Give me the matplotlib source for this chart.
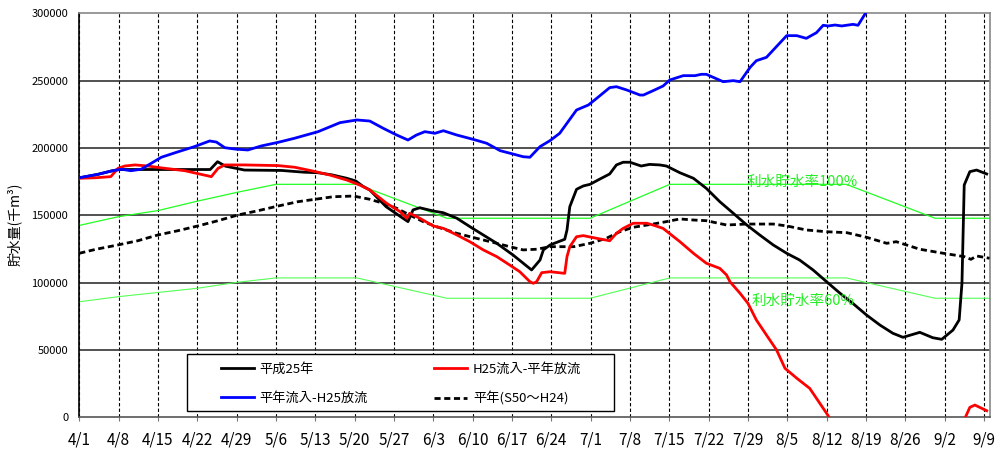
import matplotlib
matplotlib.use("Agg")
import matplotlib.pyplot as plt
from matplotlib.patches import Rectangle

plt.rcParams['font.family'] = ['Noto Sans CJK JP', 'DejaVu Sans']

# ---------------- data (day index from 4/1) ----------------
tick_days = list(range(0, 162, 7))
tick_labels = ['4/1', '4/8', '4/15', '4/22', '4/29', '5/6', '5/13', '5/20', '5/27',
               '6/3', '6/10', '6/17', '6/24', '7/1', '7/8', '7/15', '7/22', '7/29',
               '8/5', '8/12', '8/19', '8/26', '9/2', '9/9']
y_ticks = [0, 50000, 100000, 150000, 200000, 250000, 300000]

h25_days = [0, 3.3, 5.7, 7, 23.3, 24.6, 26, 29.4, 36, 40, 42.5, 45, 47.6, 49.2, 50.5, 51.7, 54.6,
            57.6, 58.5, 59.4, 60.6, 63, 64.8, 67.2, 70, 74.3, 77.2, 80.5, 82, 82.6, 83.8,
            86.4, 86.8, 87.3, 88.5, 89.7, 90.9, 92.6, 94.4, 95.6, 96.8, 98, 100, 101.5,
            103.3, 104.5, 106.9, 109.3, 111.6, 114, 116.4, 118.8, 121.1, 123.5, 125.9,
            128.2, 130.6, 133, 135.4, 137.7, 140.1, 142.5, 144.8, 146.6, 149.6, 151.9,
            153.5, 155.5, 156.6, 157.1, 157.5, 158.5, 159.7, 161.5]
h25_vals = [177800, 180400, 182900, 184000, 184000, 189800, 186500, 183600, 183300, 182000, 181600,
            180000, 177500, 175500, 171500, 168800, 156400, 147800, 145300, 154000, 155600,
            153200, 151900, 147800, 140300, 129200, 120500, 109400, 116800, 124300, 128000,
            132200, 139100, 156400, 169300, 171800, 173000, 176800, 180700, 187400, 189400,
            189400, 186600, 187800, 187400, 186600, 181600, 177500, 170000, 160100, 151500,
            142800, 135400, 128000, 121800, 116800, 109400, 100700, 92100, 84500, 76000,
            68500, 62400, 59400, 63100, 59100, 57900, 64800, 72300, 99700, 172500, 182400,
            183600, 180700]

red_days = [0, 3, 5.6, 6.9, 8.1, 9.9, 12.2, 15.2, 18.8, 23.5, 24.7, 25.9, 29.4, 35.4, 38.3,
            41.3, 44.6, 47.6, 49.9, 51.7, 54.7, 57.1, 58.3, 58.8, 60.6, 63, 64.8, 67.2, 69.5,
            71.9, 74.3, 76.6, 78.4, 80.2, 80.8, 81.4, 82.3, 83.8, 86.4, 86.8, 87.3, 88.5,
            89.7, 92.1, 94.4, 95.6, 96.8, 98.6, 101, 102.1, 103.9, 106.9, 109.3, 111.6, 114,
            115.2, 115.8, 117.6, 119, 120.5, 122.3, 124.1, 125.6, 127.7, 130, 131.8, 133,
            135, 145, 155, 157.6, 158.5, 159.4, 161.5]
red_vals = [177500, 177900, 178700, 184900, 186600, 187400, 186600, 184900, 183100, 178700,
            184900, 187400, 187400, 186900, 185700, 183100, 179900, 176200, 172500, 168800,
            158900, 152700, 147800, 151500, 147800, 142100, 140300, 135400, 130400, 124300,
            119300, 113100, 108100, 100700, 99500, 100700, 107400, 108100, 106900, 119300,
            126700, 134100, 134900, 132900, 131100, 136600, 140300, 144100, 144100, 142800,
            140300, 130400, 121800, 114400, 110600, 105700, 100700, 92100, 84700, 72300,
            61100, 50000, 36400, 29000, 21500, 10400, 3000, -10000, -30000, -20000, -1000,
            7400, 9100, 4900]

blue_days = [0, 3.3, 5.7, 7.5, 9.2, 11, 12.8, 14.6, 17.6, 20.5, 23.2, 24.4, 25.9, 27.7, 30,
             32.4, 35.4, 38.3, 42.5, 46.4, 49.4, 51.7, 54.1, 56.5, 58.5, 60, 61.5, 63.3, 64.8,
             67.2, 70.1, 72.5, 74.9, 77.2, 79, 80.2, 82, 83.8, 85.5, 88.5, 90.6, 92.1, 94.4,
             95.6, 97.4, 99.8, 100.4, 102.1, 103.9, 105.1, 107.5, 109.6, 110.7, 111.6, 114.6,
             116.4, 117.6, 119.4, 120.5, 122.3, 125.9, 127.7, 129.4, 131.2, 132.4, 133.3,
             134.5, 135.7, 137.7, 138.6, 140, 141]
blue_vals = [177900, 180400, 182900, 184200, 183100, 184200, 188600, 193100, 197200, 201000,
             205200, 204400, 200200, 199200, 198500, 201500, 204200, 207200, 212100, 218800,
             220800, 220000, 214600, 209600, 205900, 209600, 212100, 210900, 212800, 209600,
             206400, 203500, 198000, 195500, 193500, 193100, 201000, 205500, 210900, 228200,
             231900, 236900, 244800, 245500, 243100, 239300, 239300, 242500, 246000, 250500,
             253700, 253700, 254700, 254700, 249200, 250000, 249200, 259900, 264800, 267300,
             283400, 283400, 281400, 285600, 291100, 290600, 291300, 290600, 291800, 291100,
             300500, 306000]

avg_days = [0, 3, 6.9, 10.4, 14, 17.6, 21.1, 24.7, 28.2, 31.8, 35.4, 38.9, 42.5, 45.2, 48.8,
            51.7, 54.1, 56.5, 58.8, 61.2, 63.6, 67.2, 70.7, 74.3, 76.6, 79, 81.4, 83.8, 86.1,
            88, 90.9, 93.8, 96.2, 98.6, 102.1, 104.5, 106.9, 109.3, 111.6, 115.2, 118.8,
            123.5, 125.9, 129.4, 133, 136.6, 140.1, 143.7, 145.4, 147.2, 149.6, 153.2, 157.5,
            158.7, 159.7, 162]
avg_vals = [121800, 124800, 128000, 131100, 135400, 138600, 142100, 146000, 150200, 153400,
            156900, 160100, 162200, 163800, 164300, 161900, 158900, 155200, 150200, 145300,
            141500, 136600, 132900, 129200, 126700, 124300, 124800, 126700, 126700, 126700,
            129200, 132900, 137800, 141100, 143500, 145300, 147300, 146500, 146000, 142800,
            143500, 143500, 142100, 139100, 137800, 137100, 133700, 129200, 130400, 128000,
            124800, 122200, 119300, 117300, 119800, 118100]

full_days = [0, 7, 14, 21, 28, 35, 49.4, 65.4, 90.9, 105.1, 136.5, 152.3, 162]
full_vals = [142500, 149000, 153500, 160500, 167000, 173000, 173000, 147800, 147800,
             173000, 173000, 147800, 147800]
low_days = [0, 7, 21, 28, 35, 49.4, 65.4, 90.9, 105.1, 136.5, 152.3, 162]
low_vals = [85800, 89600, 95800, 100200, 103500, 103500, 88400, 88400, 103500, 103500,
            88400, 88400]

series_labels = ['平成25年', 'H25流入-平年放流', '平年流入-H25放流', '平年(S50～H24)']
label_full = '利水貯水率100%'
label_low = '利水貯水率60%'
ylabel = '貯水量(千m³)'

# ---------------- figure ----------------
fig = plt.figure(figsize=(10.01, 4.53), dpi=100)
AX_L, AX_R, AX_T, AX_B = 79.3, 989.5, 13.3, 417.3
AW, AH = AX_R - AX_L, AX_B - AX_T
ax = fig.add_axes([AX_L / 1001, 1 - AX_B / 453, AW / 1001, AH / 453])

ax.set_xlim(0, 162)
ax.set_ylim(0, 300000)

for d in tick_days:
    ax.axvline(d, color='black', lw=0.8, ls=(0, (3, 2)), zorder=1)
for v in y_ticks[1:-1]:
    ax.axhline(v, color='#333333', lw=1.2, zorder=1)

green = '#22ee22'
ax.plot(full_days, full_vals, color='#22ff22', lw=0.9, zorder=2)
ax.plot(low_days, low_vals, color='#55ff55', lw=0.8, zorder=2)

l_avg, = ax.plot(avg_days, avg_vals, color='black', lw=2.0, dashes=(2.2, 1.3), zorder=3)
l_h25, = ax.plot(h25_days, h25_vals, color='black', lw=2.0, zorder=4)
l_red, = ax.plot(red_days, red_vals, color='#ff0000', lw=2.0, zorder=5)
l_blue, = ax.plot(blue_days, blue_vals, color='#0000ff', lw=2.0, zorder=6)

for (xp, yp, s) in [(802, 182, label_full), (803, 301, label_low)]:
    ax.text((xp - AX_L) / AW, (AX_B - yp) / AH, s, transform=ax.transAxes, color=green,
            fontsize=10.5, ha='center', va='center', zorder=7)

ax.set_xticks(tick_days)
ax.set_xticklabels(tick_labels, fontsize=11)
ax.set_yticks(y_ticks)
ax.set_yticklabels([str(v) for v in y_ticks], fontsize=8)
ax.tick_params(axis='x', direction='out', length=3, color='#777777', pad=7)
ax.tick_params(axis='y', length=0, pad=8)

ax.set_ylabel(ylabel, fontsize=10)
ax.yaxis.set_label_coords(-(AX_L - 22) / AW, (AX_B - 224) / AH)

ax.spines['left'].set_color('black')
ax.spines['bottom'].set_color('#555555')
ax.spines['top'].set_color('#888888')
ax.spines['right'].set_color('#888888')
for s in ax.spines.values():
    s.set_linewidth(1.2)

# legend frame
x0 = (186.7 - AX_L) / AW
y0 = (AX_B - 411) / AH
w = (614 - 186.7) / AW
h = (411 - 354) / AH
ax.add_patch(Rectangle((x0, y0), w, h, transform=ax.transAxes, facecolor='white',
                       edgecolor='black', lw=1.0, zorder=8))
leg = ax.legend([l_h25, l_blue, l_red, l_avg],
                [series_labels[0], series_labels[2], series_labels[1], series_labels[3]],
                ncol=2, loc='upper left',
                bbox_to_anchor=((220.7 - AX_L) / AW, (AX_B - 362.5) / AH),
                frameon=False, fontsize=9.5, borderpad=0, borderaxespad=0,
                handlelength=2.5, handletextpad=0.45, columnspacing=5.0,
                labelspacing=1.2)
leg.set_zorder(9)

fig.savefig('out.png', dpi=100)
